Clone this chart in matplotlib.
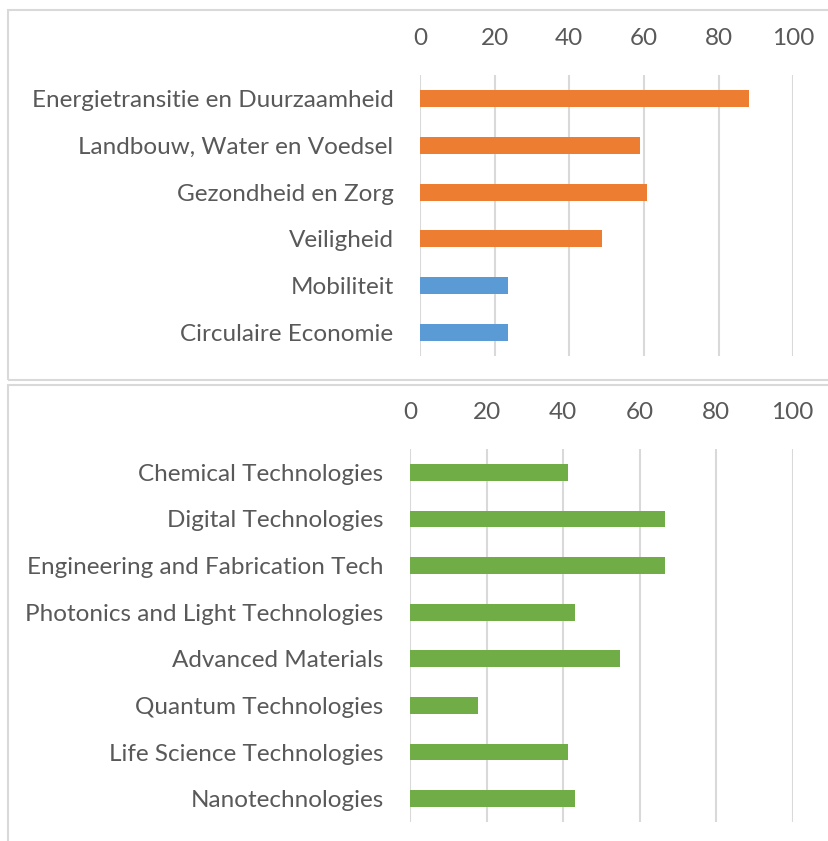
import matplotlib
matplotlib.use("Agg")
import matplotlib.pyplot as plt
from matplotlib.patches import Rectangle

# top chart: societal themes
themes = ["Energietransitie en Duurzaamheid", "Landbouw, Water en Voedsel",
          "Gezondheid en Zorg", "Veiligheid", "Mobiliteit", "Circulaire Economie"]
theme_vals = [88, 58.8, 60.8, 48.8, 23.5, 23.5]
theme_colors = ["#ED7D31", "#ED7D31", "#ED7D31", "#ED7D31", "#5B9BD5", "#5B9BD5"]

# bottom chart: key technologies
techs = ["Chemical Technologies", "Digital Technologies", "Engineering and Fabrication Tech",
         "Photonics and Light Technologies", "Advanced Materials", "Quantum Technologies",
         "Life Science Technologies", "Nanotechnologies"]
tech_vals = [41.2, 66.7, 66.7, 43.2, 54.9, 17.7, 41.2, 43.2]

ticks = [0, 20, 40, 60, 80, 100]

W, H = 829, 841
fig = plt.figure(figsize=(W / 100, H / 100), dpi=100)
plt.rcParams['font.family'] = ['Lato', 'DejaVu Sans']

txt = "#595959"
grid = "#D9D9D9"


def hbar(ax, labels, vals, colors):
    y = list(range(len(labels)))
    ax.barh(y, vals, height=0.36, color=colors, zorder=3)
    ax.set_xlim(0, 100)
    ax.set_ylim(len(labels) - 0.5, -0.5)
    ax.set_yticks(y)
    ax.set_yticklabels(labels, fontsize=17.5, color=txt)
    ax.set_xticks(ticks)
    ax.set_xticklabels([str(t) for t in ticks], fontsize=17.5, color=txt)
    ax.xaxis.tick_top()
    ax.tick_params(length=0)
    ax.tick_params(axis="x", pad=19)
    ax.tick_params(axis="y", pad=19)
    for s in ax.spines.values():
        s.set_visible(False)
    ax.grid(axis="x", color=grid, linewidth=1.5, zorder=0)


# axes rectangles in pixels -> figure fraction
def rect(x0, x1, y0, y1):
    return [x0 / W, 1 - y1 / H, (x1 - x0) / W, (y1 - y0) / H]


ax1 = fig.add_axes(rect(420, 793.3, 75, 356))
hbar(ax1, themes, theme_vals, theme_colors)

ax2 = fig.add_axes(rect(410, 792.7, 449, 822))
hbar(ax2, techs, tech_vals, "#70AD47")

# panel borders
fig.patches.append(Rectangle((8 / W, 1 - 380 / H), 830 / W, 370 / H, transform=fig.transFigure,
                             fill=False, edgecolor=grid, linewidth=1.5))
fig.patches.append(Rectangle((8 / W, -0.05), 830 / W, 1 - 385 / H + 0.05, transform=fig.transFigure,
                             fill=False, edgecolor=grid, linewidth=1.5))

fig.savefig("out.png", dpi=100)
